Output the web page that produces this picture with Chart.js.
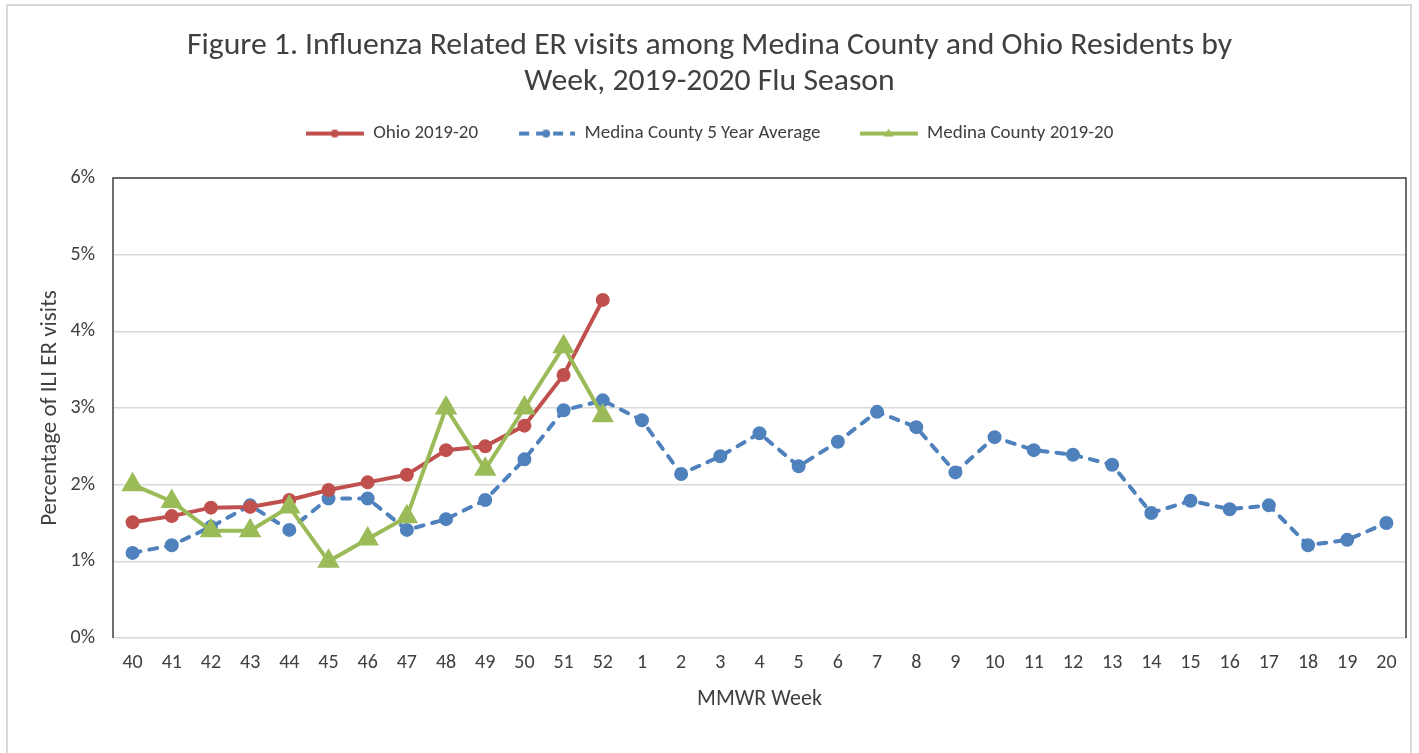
<!DOCTYPE html>
<html>
<head>
<meta charset="utf-8">
<script src="https://cdn.jsdelivr.net/npm/chart.js@4"></script>
<style>
  html, body { margin: 0; padding: 0; background: #fff; }
  #wrap { width: 1419px; height: 753px; }
</style>
</head>
<body>
<div id="wrap"><canvas id="fluChart" width="1419" height="753"></canvas></div>
<script>
// Tuần MMWR
const weeks = ['40', '41', '42', '43', '44', '45', '46', '47', '48', '49', '50', '51', '52',
  '1', '2', '3', '4', '5', '6', '7', '8', '9', '10', '11', '12', '13', '14', '15', '16', '17', '18', '19', '20'];

// Phần trăm lượt khám ER liên quan cúm (%)
const ohio = [1.51, 1.59, 1.70, 1.71, 1.80, 1.93, 2.03, 2.13, 2.45, 2.50, 2.77, 3.43, 4.41];
const medinaAvg = [1.11, 1.21, 1.45, 1.73, 1.41, 1.82, 1.82, 1.41, 1.55, 1.80, 2.33, 2.97, 3.10,
  2.84, 2.14, 2.37, 2.67, 2.24, 2.56, 2.95, 2.75, 2.16, 2.62, 2.45, 2.39, 2.26,
  1.63, 1.79, 1.68, 1.73, 1.21, 1.28, 1.50];
const medina = [2.0, 1.78, 1.40, 1.40, 1.71, 1.0, 1.29, 1.58, 3.0, 2.2, 3.0, 3.8, 2.9];

const yTicks = [0, 1, 2, 3, 4, 5, 6];

const RED = '#C0504D', BLUE = '#4F81BD', GREEN = '#9BBB59';
const FONT = 'Calibri, Carlito, Lato, "Liberation Sans", sans-serif';

// Vẽ biểu tượng chú thích (đường + điểm)
function legendIcon(color, marker, dashed) {
  const c = document.createElement('canvas');
  c.width = 58; c.height = 16;
  const g = c.getContext('2d');
  g.strokeStyle = color; g.fillStyle = color; g.lineWidth = 4;
  if (dashed) { g.setLineDash([10, 7]); }
  g.beginPath(); g.moveTo(dashed ? 2 : 0, 8); g.lineTo(58, 8); g.stroke();
  g.setLineDash([]);
  g.beginPath();
  if (marker === 'triangle') {
    g.moveTo(29, 3); g.lineTo(34, 11); g.lineTo(24, 11); g.closePath();
  } else {
    g.arc(29, 8, 4, 0, Math.PI * 2);
  }
  g.fill();
  return c;
}

const plotFrame = {
  id: 'plotFrame',
  beforeInit(chart) {
    // thêm khoảng trống dưới chú thích
    const fitLegend = chart.legend.fit;
    chart.legend.fit = function fit() {
      fitLegend.bind(chart.legend)();
      this.height += 25;
    };
  },
  beforeDraw(chart) {
    const ctx = chart.ctx;
    ctx.save();
    ctx.fillStyle = '#fff';
    ctx.fillRect(0, 0, chart.width, chart.height);
    ctx.strokeStyle = '#d9d9d9';
    ctx.lineWidth = 2;
    ctx.strokeRect(7, 5, 1404, 760);
    ctx.restore();
  },
  beforeDatasetsDraw(chart) {
    const a = chart.chartArea, ctx = chart.ctx;
    ctx.save();
    ctx.strokeStyle = '#404040';
    ctx.lineWidth = 1.5;
    ctx.beginPath();
    ctx.moveTo(a.left, a.bottom);
    ctx.lineTo(a.left, a.top);
    ctx.lineTo(a.right, a.top);
    ctx.lineTo(a.right, a.bottom);
    ctx.stroke();
    ctx.restore();
  }
};

const ctx = document.getElementById('fluChart').getContext('2d');
new Chart(ctx, {
  type: 'line',
  data: {
    labels: weeks,
    datasets: [
      {
        label: 'Ohio 2019-20',
        data: ohio,
        borderColor: RED, backgroundColor: RED,
        borderWidth: 4, pointRadius: 5, pointHoverRadius: 5,
        pointStyle: 'circle', tension: 0, order: 2
      },
      {
        label: 'Medina County 5 Year Average',
        data: medinaAvg,
        borderColor: BLUE, backgroundColor: BLUE,
        borderWidth: 4, borderDash: [8, 9], borderCapStyle: 'round',
        pointRadius: 5, pointHoverRadius: 5,
        pointStyle: 'circle', tension: 0, order: 3
      },
      {
        label: 'Medina County 2019-20',
        data: medina,
        borderColor: GREEN, backgroundColor: GREEN,
        borderWidth: 4, pointRadius: 9, pointHoverRadius: 9,
        pointStyle: 'triangle', tension: 0, order: 1
      }
    ]
  },
  options: {
    responsive: false,
    animation: false,
    layout: { padding: 0 },
    plugins: {
      title: {
        display: true,
        text: ['Figure 1. Influenza Related ER visits among Medina County and Ohio Residents by',
               'Week, 2019-2020 Flu Season'],
        color: '#404040',
        font: { family: FONT, size: 31.7, weight: 'normal', lineHeight: 1.12 },
        padding: { top: 28.5, bottom: -14.5 }
      },
      legend: {
        position: 'top',
        labels: {
          usePointStyle: true,
          pointStyleWidth: 58,
          padding: 39,
          color: '#404040',
          font: { family: FONT, size: 19 },
          generateLabels: (chart) => chart.data.datasets.map((ds, i) => ({
            text: ds.label,
            pointStyle: legendIcon(ds.borderColor, ds.pointStyle, i === 1),
            fillStyle: ds.borderColor,
            strokeStyle: ds.borderColor,
            lineWidth: 0,
            fontColor: '#404040',
            datasetIndex: i
          }))
        }
      },
      tooltip: { enabled: false }
    },
    scales: {
      x: {
        offset: true,
        grid: { display: false, drawTicks: false },
        border: { display: false },
        ticks: { color: '#404040', font: { family: FONT, size: 20 }, padding: 13, maxRotation: 0, autoSkip: false },
        title: {
          display: true, text: 'MMWR Week', color: '#404040',
          font: { family: FONT, size: 22 }, padding: { top: 40, bottom: 40 }
        },
        afterFit: (s) => { s.height = 115; }
      },
      y: {
        min: 0, max: 6,
        afterBuildTicks: (s) => { s.ticks = yTicks.map(v => ({ value: v })); },
        grid: { color: '#d9d9d9', lineWidth: 1.5, drawTicks: false },
        border: { display: false },
        ticks: { color: '#404040', font: { family: FONT, size: 20 }, padding: 18, callback: (v) => v + '%' },
        title: {
          display: true, text: 'Percentage of ILI ER visits', color: '#404040',
          font: { family: FONT, size: 23 }, padding: { top: 36, bottom: 36 }
        },
        afterFit: (s) => { s.width = 113; }
      }
    }
  },
  plugins: [plotFrame]
});
</script>
</body>
</html>
